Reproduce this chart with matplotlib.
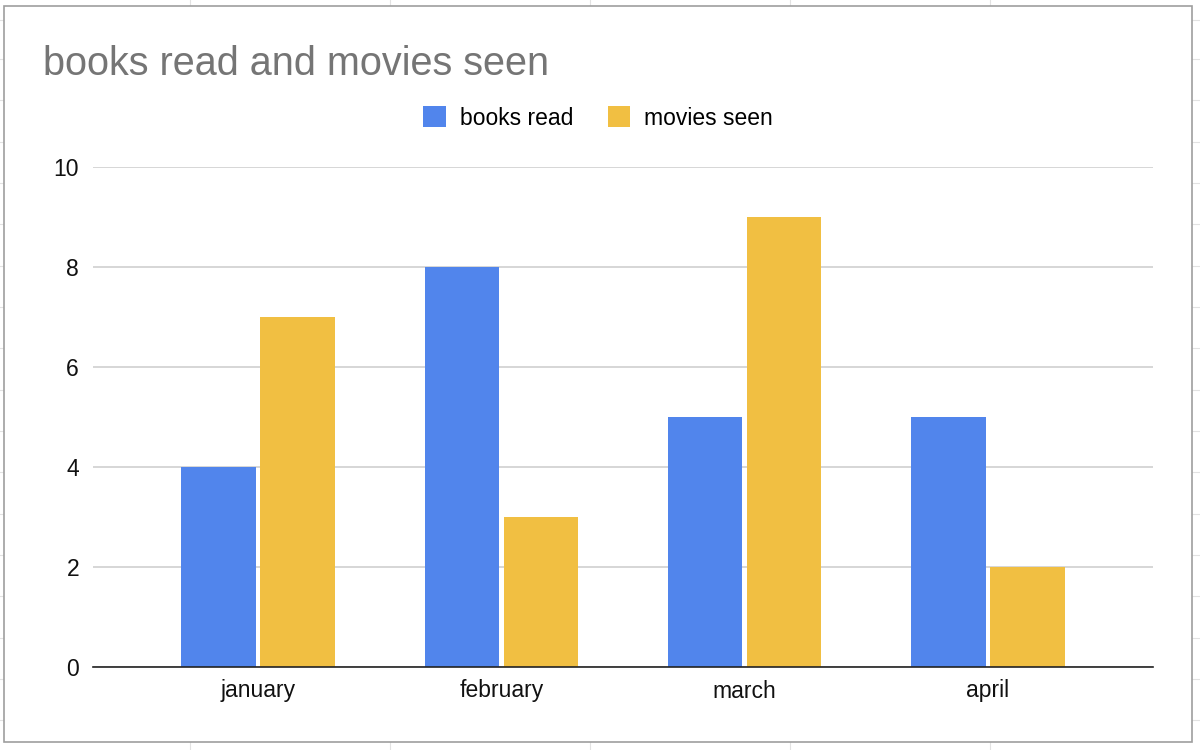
import matplotlib
matplotlib.use("Agg")
import matplotlib.pyplot as plt
from matplotlib.lines import Line2D
from matplotlib.patches import Rectangle
import numpy as np

months = ["january", "february", "march", "april"]
books_read = [4, 8, 5, 5]
movies_seen = [7, 3, 9, 2]

plt.rcParams['font.family'] = ['Liberation Sans', 'DejaVu Sans']

fig = plt.figure(figsize=(12, 7.5), dpi=100)
W, H = 1200, 750

# spreadsheet cell lines behind the chart
for xp in [190, 390, 590, 790, 990]:
    fig.add_artist(Line2D([xp / W, xp / W], [0, 1], color="#e2e2e2", lw=0.8, zorder=0))
for yp in [20, 59, 100, 142, 183, 224, 266, 307, 348, 390, 431, 472, 514, 555, 596, 638, 679, 720]:
    fig.add_artist(Line2D([0, 1], [1 - yp / H, 1 - yp / H], color="#e2e2e2", lw=0.8, zorder=0))

# white chart card with gray border
fig.add_artist(Rectangle((4 / W, 1 - 742 / H), (1192 - 4) / W, (742 - 6) / H,
                         facecolor="white", edgecolor="#9e9e9e", lw=1.2, zorder=1))

ax = fig.add_axes([93 / W, 1 - 667 / H, (1153 - 93) / W, (667 - 167) / H], zorder=2)
ax.patch.set_alpha(0)

x = np.arange(len(months))
w = 0.305
off = 0.162
ax.bar(x - off, books_read, w, color="#5185ec", label="books read", zorder=3)
ax.bar(x + off, movies_seen, w, color="#f1bf42", label="movies seen", zorder=3)

ax.set_xlim(-0.678, 3.678)
ax.set_ylim(0, 10)
ax.set_yticks([0, 2, 4, 6, 8, 10])
ax.set_xticks(x)
ax.set_xticklabels(months)
ax.tick_params(axis="both", length=0, labelsize=16.5, colors="#111111")
ax.tick_params(axis="y", pad=10)
ax.tick_params(axis="x", pad=9)
ax.grid(axis="y", color="#cccccc", lw=1.1, zorder=0)
for s in ["top", "right", "left"]:
    ax.spines[s].set_visible(False)
ax.spines["bottom"].set_color("#222222")
ax.spines["bottom"].set_linewidth(1.2)
ax.spines["bottom"].set_zorder(4)

fig.text(43 / W, 1 - 64 / H, "books read and movies seen", fontsize=28.5,
         color="#757575", va="center", ha="left", zorder=3)

fig.legend(loc="center", bbox_to_anchor=(598 / W, 1 - 118 / H), ncol=2,
           frameon=False, fontsize=16.5, handlelength=1.0, handleheight=1.0,
           handletextpad=0.6, columnspacing=1.5)

fig.savefig("out.png", dpi=100)
